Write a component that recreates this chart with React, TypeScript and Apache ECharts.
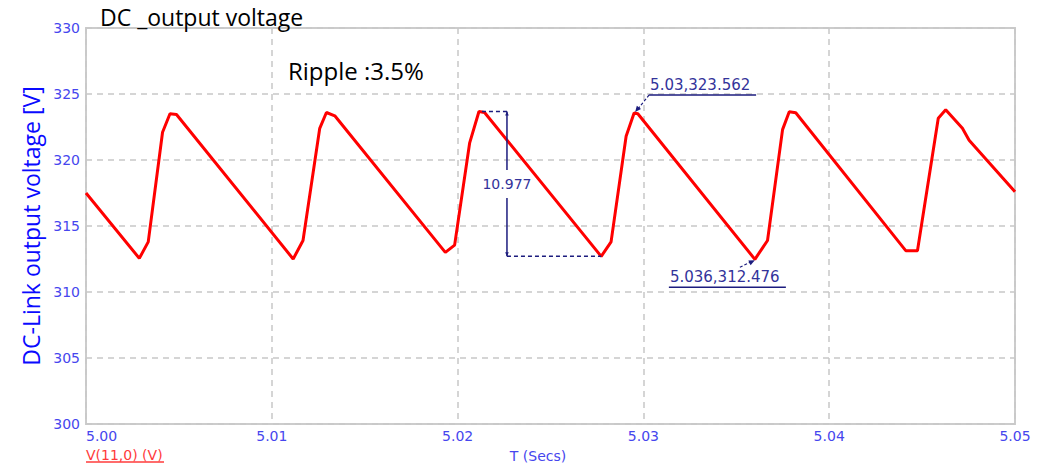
import React, { useEffect, useRef } from "react";
import * as echarts from "echarts";

// Simulated DC-link voltage (time in seconds, voltage in volts)
const timeSec = [
  5.0, 5.00287, 5.00335, 5.00412, 5.00452, 5.00487,
  5.01115, 5.01168, 5.01258, 5.01294, 5.01339,
  5.01934, 5.01984, 5.02065, 5.02115, 5.02145,
  5.02773, 5.02826, 5.02907, 5.0295, 5.0297,
  5.036, 5.03668, 5.03749, 5.03785, 5.0382,
  5.04412, 5.04475, 5.04587, 5.04627, 5.04717, 5.04753, 5.05,
];
const voltage = [
  317.5, 312.55, 313.8, 322.1, 323.5, 323.45,
  312.5, 313.9, 322.4, 323.6, 323.35,
  313.0, 313.55, 321.3, 323.677, 323.6,
  312.7, 313.8, 321.8, 323.562, 323.5,
  312.476, 313.9, 322.3, 323.65, 323.58,
  313.13, 313.13, 323.16, 323.8, 322.4, 321.5, 317.6,
];

// Axis ranges and ticks
const xTicks = [5.0, 5.01, 5.02, 5.03, 5.04, 5.05];
const yTicks = [300, 305, 310, 315, 320, 325, 330];

// Cursor read-outs (indices into the arrays above)
const peakCursorIdx = 19;
const troughCursorIdx = 21;
const rippleTopIdx = 14;
const rippleBottomIdx = 16;

const titleText = "DC _output voltage";
const rippleText = "Ripple :3.5%";
const yAxisTitle = "DC-Link output voltage [V]";
const xAxisTitle = "T (Secs)";
const traceName = "V(11,0) (V)";

const NAVY = "#1c1c7e";
const NAVY_TEXT = "#33339a";
const TICK_BLUE = "#4646ee";
const TICK_FONT = "DejaVu Sans";

function arrowHead(tipX: number, tipY: number, fromX: number, fromY: number, size: number) {
  const dx = tipX - fromX;
  const dy = tipY - fromY;
  const len = Math.hypot(dx, dy) || 1;
  const ux = dx / len;
  const uy = dy / len;
  const bx = tipX - ux * size;
  const by = tipY - uy * size;
  const w = size * 0.45;
  return {
    type: "polygon",
    shape: {
      points: [
        [tipX, tipY],
        [bx - uy * w, by + ux * w],
        [bx + uy * w, by - ux * w],
      ],
    },
    style: { fill: NAVY },
    z: 20,
  };
}

export default function App() {
  const ref = useRef<HTMLDivElement>(null);

  useEffect(() => {
    if (!ref.current) return;
    const chart = echarts.init(ref.current, undefined, { renderer: "svg" });

    chart.setOption({
      animation: false,
      backgroundColor: "#ffffff",
      grid: {
        left: 86,
        right: 41,
        top: 28,
        bottom: 42,
        show: true,
        borderColor: "#cccccc",
        borderWidth: 2,
        backgroundColor: "transparent",
      },
      xAxis: {
        type: "value",
        min: xTicks[0],
        max: xTicks[xTicks.length - 1],
        interval: 0.01,
        axisLine: { show: false },
        axisTick: { show: false },
        splitLine: {
          show: true,
          lineStyle: { color: "#c8c8c8", width: 1.5, type: [6, 5] },
        },
        axisLabel: {
          color: TICK_BLUE,
          fontFamily: TICK_FONT,
          fontSize: 14,
          margin: 5,
          alignMinLabel: "left",
          formatter: (v: number) => v.toFixed(2),
        },
      },
      yAxis: {
        type: "value",
        min: yTicks[0],
        max: yTicks[yTicks.length - 1],
        interval: 5,
        name: yAxisTitle,
        nameLocation: "middle",
        nameGap: 42,
        nameTextStyle: {
          color: "#0a0aff",
          fontFamily: "Open Sans",
          fontSize: 23,
        },
        axisLine: { show: false },
        axisTick: { show: false },
        splitLine: {
          show: true,
          lineStyle: { color: "#c8c8c8", width: 1.5, type: [6, 5] },
        },
        axisLabel: {
          color: TICK_BLUE,
          fontFamily: TICK_FONT,
          fontSize: 14,
          margin: 6,
          formatter: (v: number) => String(v),
        },
      },
      series: [
        {
          type: "line",
          name: traceName,
          data: timeSec.map((t, i) => [t, voltage[i]]),
          showSymbol: false,
          lineStyle: { color: "#ff0000", width: 3 },
          z: 5,
        },
      ],
    });

    const toPx = (i: number) =>
      chart.convertToPixel({ xAxisIndex: 0, yAxisIndex: 0 }, [timeSec[i], voltage[i]]) as number[];

    const [pkX, pkY] = toPx(peakCursorIdx);
    const [trX, trY] = toPx(troughCursorIdx);
    const [rtX, rtY] = toPx(rippleTopIdx);
    const [rbX, rbY] = toPx(rippleBottomIdx);

    const peakLabel = `${timeSec[peakCursorIdx].toFixed(2)},${voltage[peakCursorIdx]}`;
    const troughLabel = `${timeSec[troughCursorIdx]},${voltage[troughCursorIdx]}`;
    const rippleLabel = (voltage[rippleTopIdx] - voltage[rippleBottomIdx]).toFixed(3);

    // peak cursor: leader, underline and read-out
    const pLeadX = pkX + 15;
    const pLeadY = pkY - 18;
    // trough cursor
    const tLeadX = trX - 15;
    const tLeadY = trY + 8;
    // ripple measurement
    const mX = rtX + 28;
    const mMid = (rtY + rbY) / 2;

    const graphic: any[] = [
      {
        type: "text",
        x: 100,
        y: 17,
        style: {
          text: titleText,
          font: '23px "Open Sans"',
          fill: "#000000",
          textVerticalAlign: "middle",
        },
      },
      {
        type: "text",
        x: 288,
        y: 70,
        style: {
          text: rippleText,
          font: '24px "Open Sans"',
          fill: "#000000",
          textVerticalAlign: "middle",
        },
      },
      {
        type: "text",
        x: 538,
        y: 456,
        style: {
          text: xAxisTitle,
          font: `14px "${TICK_FONT}"`,
          fill: TICK_BLUE,
          textAlign: "center",
          textVerticalAlign: "middle",
        },
      },
      {
        type: "text",
        x: 86,
        y: 455,
        style: {
          text: traceName,
          font: `14px "${TICK_FONT}"`,
          fill: "#ff3b3b",
          textVerticalAlign: "middle",
        },
      },
      {
        type: "line",
        shape: { x1: 86, y1: 462, x2: 164, y2: 462 },
        style: { stroke: "#ff3b3b", lineWidth: 1.5 },
      },
      // peak cursor
      {
        type: "line",
        shape: { x1: pLeadX, y1: pLeadY, x2: pkX + 3, y2: pkY - 3 },
        style: { stroke: NAVY, lineWidth: 1.2, lineDash: [3, 2] },
        z: 20,
      },
      arrowHead(pkX + 1, pkY - 1, pLeadX, pLeadY, 6),
      {
        type: "line",
        shape: { x1: pLeadX, y1: pLeadY, x2: pLeadX + 107, y2: pLeadY },
        style: { stroke: NAVY, lineWidth: 1.5 },
        z: 20,
      },
      {
        type: "text",
        x: pLeadX + 1,
        y: pLeadY - 10,
        style: {
          text: peakLabel,
          font: `15px "${TICK_FONT}"`,
          fill: NAVY_TEXT,
          textVerticalAlign: "middle",
        },
        z: 20,
      },
      // trough cursor
      {
        type: "line",
        shape: { x1: tLeadX, y1: tLeadY, x2: trX - 3, y2: trY + 2 },
        style: { stroke: NAVY, lineWidth: 1.2, lineDash: [3, 2] },
        z: 20,
      },
      arrowHead(trX, trY + 1, tLeadX, tLeadY, 6),
      {
        type: "text",
        x: trX - 85,
        y: trY + 18,
        style: {
          text: troughLabel,
          font: `15px "${TICK_FONT}"`,
          fill: NAVY_TEXT,
          textVerticalAlign: "middle",
        },
        z: 20,
      },
      {
        type: "line",
        shape: { x1: trX - 86, y1: trY + 28, x2: trX + 31, y2: trY + 28 },
        style: { stroke: NAVY, lineWidth: 1.5 },
        z: 20,
      },
      // ripple measurement
      {
        type: "line",
        shape: { x1: rtX + 3, y1: rtY, x2: mX, y2: rtY },
        style: { stroke: NAVY, lineWidth: 1.5, lineDash: [4, 3] },
        z: 20,
      },
      {
        type: "line",
        shape: { x1: mX, y1: rbY, x2: rbX, y2: rbY },
        style: { stroke: NAVY, lineWidth: 1.5, lineDash: [4, 3] },
        z: 20,
      },
      {
        type: "line",
        shape: { x1: mX, y1: rtY, x2: mX, y2: mMid - 14 },
        style: { stroke: NAVY, lineWidth: 1.5 },
        z: 20,
      },
      {
        type: "line",
        shape: { x1: mX, y1: mMid + 14, x2: mX, y2: rbY },
        style: { stroke: NAVY, lineWidth: 1.5 },
        z: 20,
      },
      arrowHead(mX, rtY, mX, rtY + 10, 4),
      arrowHead(mX, rbY, mX, rbY - 10, 4),
      {
        type: "text",
        x: mX,
        y: mMid,
        style: {
          text: rippleLabel,
          font: `14px "${TICK_FONT}"`,
          fill: NAVY_TEXT,
          textAlign: "center",
          textVerticalAlign: "middle",
        },
        z: 20,
      },
    ];

    chart.setOption({ graphic });

    return () => chart.dispose();
  }, []);

  return (
    <div
      ref={ref}
      style={{ position: "fixed", left: 0, top: 0, width: 1056, height: 466, background: "#fff" }}
    />
  );
}
